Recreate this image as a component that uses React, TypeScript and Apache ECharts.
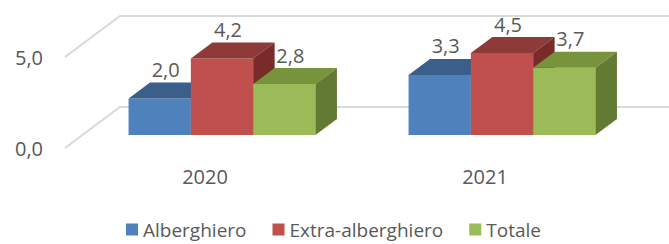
import React, { useEffect, useRef } from "react";
import * as echarts from "echarts";

const categories = ["2020", "2021"];
const alberghiero = [2.0, 3.3];
const extraAlberghiero = [4.2, 4.5];
const totale = [2.8, 3.7];
const yTicks = [0, 5];
const seriesNames = ["Alberghiero", "Extra-alberghiero", "Totale"];

const FONT = "Open Sans";
const TEXT = "#595959";
// oblique projection offsets
const FLOOR_DX = 55;
const FLOOR_DY = -41;
const FRONT_DX = 17;
const FRONT_DY = -13;
const DEPTH_DX = 21.5;
const DEPTH_DY = -16;

const palettes = [
  { front: "#4F81BD", top: "#3A5F8B", side: "#375A85" },
  { front: "#C0504D", top: "#8E3A38", side: "#772C2A" },
  { front: "#9BBB59", top: "#77933C", side: "#637A35" },
];

const fmt = (v: number) => v.toFixed(1).replace(".", ",");

function barRenderer(s: number) {
  const pal = palettes[s];
  return (params: any, api: any) => {
    const cat = api.value(0);
    const v = api.value(1);
    const base = api.coord([cat, 0]);
    const top = api.coord([cat, v]);
    const band = api.size([1, 0])[0];
    const bw = band * 0.2225;
    const x0 = base[0] - 1.5 * bw + s * bw + FRONT_DX;
    const x1 = x0 + bw;
    const yb = base[1] + FRONT_DY;
    const yt = top[1] + FRONT_DY;
    return {
      type: "group",
      children: [
        {
          type: "rect",
          shape: { x: x0, y: yt, width: bw, height: yb - yt },
          style: { fill: pal.front },
        },
        {
          type: "polygon",
          shape: {
            points: [
              [x0, yt],
              [x1, yt],
              [x1 + DEPTH_DX, yt + DEPTH_DY],
              [x0 + DEPTH_DX, yt + DEPTH_DY],
            ],
          },
          style: { fill: pal.top },
        },
        {
          type: "polygon",
          shape: {
            points: [
              [x1, yt],
              [x1 + DEPTH_DX, yt + DEPTH_DY],
              [x1 + DEPTH_DX, yb + DEPTH_DY],
              [x1, yb],
            ],
          },
          style: { fill: pal.side },
        },
        {
          type: "text",
          style: {
            text: fmt(v),
            x: x0 + bw / 2 + 6,
            y: yt + DEPTH_DY - 13,
            align: "center",
            verticalAlign: "middle",
            fill: TEXT,
            fontSize: 20,
            fontFamily: FONT,
          },
        },
      ],
    };
  };
}

export default function App() {
  const ref = useRef<HTMLDivElement>(null);
  useEffect(() => {
    document.body.style.margin = "0";
    if (!ref.current) return;
    const chart = echarts.init(ref.current, undefined, { renderer: "svg" });
    const values = [alberghiero, extraAlberghiero, totale];
    chart.setOption({
      animation: false,
      grid: { left: 65, right: 44, top: 57, bottom: 96 },
      legend: {
        data: seriesNames,
        left: 121,
        top: 215,
        icon: "rect",
        itemWidth: 12,
        itemHeight: 12,
        itemGap: 26,
        textStyle: { fontSize: 19, color: TEXT, fontFamily: FONT },
      },
      xAxis: {
        type: "category",
        data: categories,
        axisLine: { show: false },
        axisTick: { show: false },
        axisLabel: { margin: 18, fontSize: 20, color: TEXT, fontFamily: FONT },
      },
      yAxis: {
        type: "value",
        min: 0,
        max: 5,
        interval: 5,
        splitLine: { show: false },
        axisLine: { show: false },
        axisTick: { show: false },
        axisLabel: {
          margin: 22,
          fontSize: 20,
          color: TEXT,
          fontFamily: FONT,
          formatter: (v: number) => fmt(v),
        },
      },
      series: [
        {
          type: "custom",
          name: "grid",
          silent: true,
          z: 1,
          data: yTicks.map((t) => [0, t]),
          renderItem: (params: any, api: any) => {
            const y = api.coord([0, api.value(1)])[1];
            const left = params.coordSys.x;
            return {
              type: "polyline",
              shape: {
                points: [
                  [left, y],
                  [left + FLOOR_DX, y + FLOOR_DY],
                  [700, y + FLOOR_DY],
                ],
              },
              style: { stroke: "#D9D9D9", lineWidth: 2, fill: null },
            };
          },
        },
        ...seriesNames.map((name, s) => ({
          type: "custom",
          name,
          z: 2 + s,
          itemStyle: { color: palettes[s].front },
          data: values[s].map((v, i) => [i, v]),
          renderItem: barRenderer(s),
        })),
      ],
    });
    return () => chart.dispose();
  }, []);
  return <div ref={ref} style={{ width: 669, height: 244 }} />;
}
